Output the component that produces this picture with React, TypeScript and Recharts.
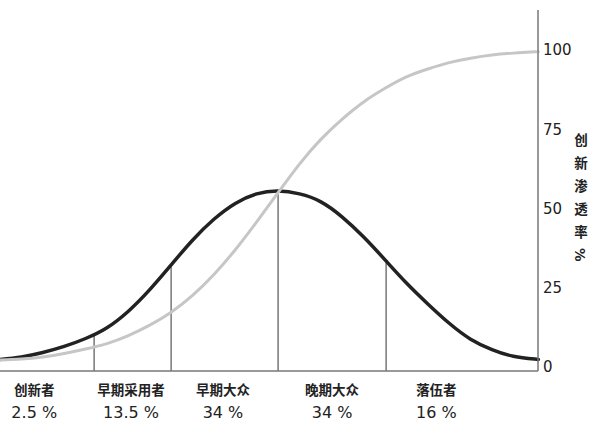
import { LineChart, Line, XAxis, YAxis, ReferenceLine, Label } from 'recharts';

// x positions in standard deviations from the mean adoption time
const zPositions = [-2.6, -2.4, -2.2, -2.0, -1.8, -1.6, -1.4, -1.2, -1.0, -0.8, -0.6, -0.4, -0.2, 0, 0.2, 0.4, 0.6, 0.8, 1.0, 1.2, 1.4, 1.6, 1.8, 2.0, 2.2, 2.4, 2.43];
// bell curve: adopters per period
const adopters = [2.4, 3.2, 4.6, 6.5, 9.0, 12.4, 17.6, 24.4, 32.2, 40.0, 46.6, 51.6, 54.6, 55.5, 54.6, 52.1, 47.3, 41.0, 33.8, 26.5, 19.9, 13.8, 8.8, 5.5, 3.4, 2.5, 2.4];
// S curve: cumulative market share
const penetration = [2.2, 2.5, 3.2, 4.3, 5.7, 7.4, 9.9, 13.2, 17.3, 22.6, 29.2, 37.0, 45.8, 55.0, 64.0, 71.8, 78.2, 83.6, 87.9, 91.5, 94.0, 96.0, 97.4, 98.4, 99.0, 99.4, 99.4];

// group boundaries and the bell height where each divider stops
const boundaryX = [-1.72, -1.0, 0, 1.01];
const boundaryTop = [10.3, 32.2, 55.5, 33.8];

const groupNames = ['创新者', '早期采用者', '早期大众', '晚期大众', '落伍者'];
const groupShares = ['2.5 %', '13.5 %', '34 %', '34 %', '16 %'];
const groupLabelX = [-2.28, -1.375, -0.515, 0.505, 1.48];

const yTicks = [0, 25, 50, 75, 100];
const Y_MIN = -1.25;

const data = zPositions.map((x, i) => ({ x, adopters: adopters[i], penetration: penetration[i] }));

const cjk = '"DejaVu Sans", "Noto Sans CJK SC", sans-serif';

function GroupTick({ x, y, payload }: any) {
  const i = groupLabelX.indexOf(payload.value);
  if (i < 0) return null;
  return (
    <g>
      <text x={x} y={y + 23.5} textAnchor="middle" fontFamily={cjk} fontWeight={700} fontSize={13.5} fill="#222">
        {groupNames[i]}
      </text>
      <text x={x} y={y + 46.5} textAnchor="middle" fontFamily='"DejaVu Sans", sans-serif' fontSize={16} fill="#222">
        {groupShares[i]}
      </text>
    </g>
  );
}

function RateLabel({ viewBox }: any) {
  const x = (viewBox?.x ?? 538) + 42;
  return (
    <text
      x={x}
      y={133}
      fontFamily={cjk}
      fontWeight={700}
      fontSize={13.5}
      fill="#222"
      style={{ writingMode: 'vertical-rl', letterSpacing: 9.5 }}
    >
      创新渗透率%
    </text>
  );
}

export default function App() {
  return (
    <div style={{ width: 591, height: 432, background: '#fff' }}>
      <style>{'body{margin:0}'}</style>
      <LineChart width={591} height={432} data={data} margin={{ top: 10, right: 0, bottom: 0, left: 0 }}>
        <XAxis
          dataKey="x"
          type="number"
          domain={[-2.6, 2.43]}
          ticks={groupLabelX}
          interval={0}
          height={61}
          tickLine={false}
          tickSize={0}
          tickMargin={0}
          tick={<GroupTick />}
          axisLine={{ stroke: '#777', strokeWidth: 1.5 }}
        />
        <YAxis
          orientation="right"
          width={53}
          domain={[Y_MIN, 112.6]}
          ticks={yTicks}
          interval={0}
          tickLine={false}
          tickSize={3}
          tickMargin={2}
          tick={{ fill: '#222', fontSize: 15, fontFamily: '"DejaVu Sans", sans-serif' }}
          axisLine={{ stroke: '#777', strokeWidth: 1.5 }}
        >
          <Label content={<RateLabel />} />
        </YAxis>
        {boundaryX.map((bx, i) => (
          <ReferenceLine
            key={bx}
            segment={[{ x: bx, y: Y_MIN }, { x: bx, y: boundaryTop[i] }]}
            stroke="#777"
            strokeWidth={1.5}
          />
        ))}
        <Line
          type="natural"
          dataKey="adopters"
          stroke="#222"
          strokeWidth={3.5}
          dot={false}
          activeDot={false}
          isAnimationActive={false}
        />
        <Line
          type="natural"
          dataKey="penetration"
          stroke="#c6c6c6"
          strokeWidth={3}
          dot={false}
          activeDot={false}
          isAnimationActive={false}
        />
      </LineChart>
    </div>
  );
}
